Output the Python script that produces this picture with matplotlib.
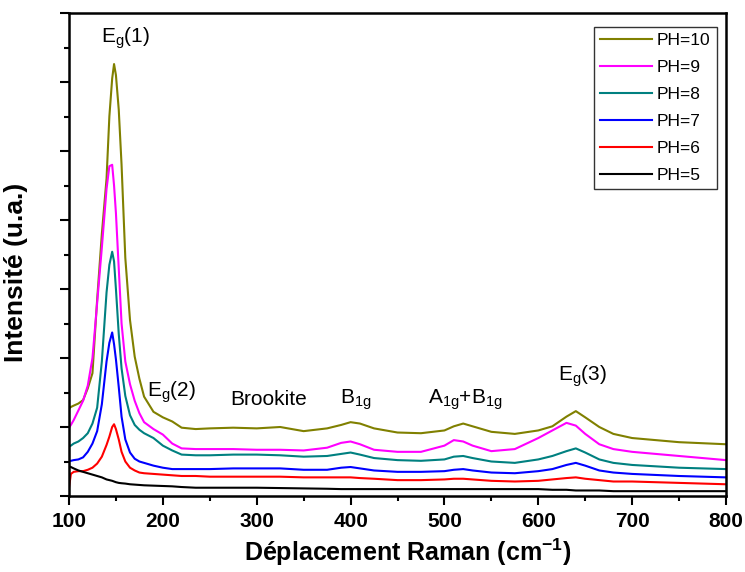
import numpy as np
import matplotlib
matplotlib.use("Agg")
import matplotlib.pyplot as plt

plt.rcParams['font.family'] = ['Liberation Sans', 'DejaVu Sans']
plt.rcParams['mathtext.default'] = 'regular'

# Raman shift (cm-1)
shift = [100, 102, 105, 110, 115, 120, 125, 130, 135, 140, 143, 146, 148, 150, 153, 156,
         160, 165, 170, 175, 180, 190, 200, 210, 220, 235, 250, 275, 300, 325, 350, 375,
         390, 400, 410, 425, 450, 475, 500, 510, 520, 530, 550, 575, 600, 615, 630, 640,
         650, 665, 680, 700, 750, 800]

ph10 = [1.27, 1.29, 1.31, 1.34, 1.39, 1.56, 1.78, 2.85, 3.8, 4.6, 5.5, 6.05, 6.26, 6.1, 5.6, 4.8,
        3.45, 2.55, 2.02, 1.7, 1.44, 1.22, 1.14, 1.08, 0.99, 0.97, 0.98, 0.99, 0.98, 1.00, 0.94, 0.98,
        1.03, 1.07, 1.05, 0.98, 0.92, 0.91, 0.95, 1.01, 1.05, 1.01, 0.93, 0.90, 0.95, 1.01, 1.15, 1.23,
        1.14, 1.0, 0.9, 0.84, 0.78, 0.75]
ph9 = [0.99, 1.03, 1.1, 1.24, 1.38, 1.6, 2.0, 2.8, 3.6, 4.45, 4.78, 4.8, 4.5, 4.1, 3.3, 2.5,
       1.95, 1.62, 1.38, 1.2, 1.07, 0.97, 0.89, 0.76, 0.69, 0.68, 0.68, 0.68, 0.67, 0.67, 0.66, 0.70,
       0.77, 0.79, 0.75, 0.67, 0.64, 0.64, 0.73, 0.81, 0.79, 0.73, 0.65, 0.68, 0.84, 0.95, 1.06, 1.02,
       0.9, 0.75, 0.68, 0.64, 0.58, 0.52]
ph8 = [0.72, 0.73, 0.76, 0.79, 0.84, 0.91, 1.05, 1.28, 1.95, 2.95, 3.35, 3.54, 3.4, 3.0, 2.35, 1.85,
       1.45, 1.17, 1.03, 0.96, 0.91, 0.84, 0.73, 0.66, 0.60, 0.59, 0.59, 0.60, 0.60, 0.59, 0.57, 0.58,
       0.61, 0.63, 0.60, 0.55, 0.52, 0.51, 0.53, 0.57, 0.58, 0.55, 0.50, 0.48, 0.53, 0.58, 0.65, 0.69,
       0.63, 0.53, 0.48, 0.45, 0.41, 0.39]
ph7 = [0.51, 0.51, 0.52, 0.53, 0.56, 0.64, 0.76, 0.94, 1.33, 1.95, 2.22, 2.37, 2.2, 1.98, 1.58, 1.15,
       0.82, 0.63, 0.54, 0.50, 0.48, 0.44, 0.41, 0.39, 0.39, 0.39, 0.39, 0.40, 0.40, 0.40, 0.38, 0.38,
       0.41, 0.42, 0.40, 0.37, 0.35, 0.35, 0.36, 0.38, 0.39, 0.37, 0.34, 0.33, 0.36, 0.39, 0.45, 0.48,
       0.44, 0.37, 0.34, 0.32, 0.29, 0.27]
ph6 = [0.12, 0.32, 0.35, 0.36, 0.36, 0.38, 0.41, 0.47, 0.57, 0.74, 0.86, 1.0, 1.04, 0.97, 0.82, 0.64,
       0.50, 0.41, 0.37, 0.34, 0.33, 0.32, 0.31, 0.30, 0.29, 0.29, 0.28, 0.28, 0.28, 0.28, 0.27, 0.27,
       0.27, 0.27, 0.26, 0.25, 0.23, 0.23, 0.24, 0.25, 0.25, 0.24, 0.22, 0.21, 0.22, 0.24, 0.26, 0.27,
       0.25, 0.23, 0.21, 0.21, 0.19, 0.17]
ph5 = [0.43, 0.42, 0.40, 0.37, 0.35, 0.33, 0.31, 0.29, 0.27, 0.24, 0.23, 0.22, 0.21, 0.20, 0.19, 0.185,
       0.18, 0.17, 0.165, 0.16, 0.155, 0.15, 0.145, 0.14, 0.13, 0.12, 0.12, 0.12, 0.12, 0.115, 0.11, 0.105,
       0.10, 0.10, 0.10, 0.10, 0.10, 0.10, 0.10, 0.10, 0.10, 0.10, 0.10, 0.10, 0.10, 0.09, 0.09, 0.08,
       0.08, 0.08, 0.07, 0.07, 0.07, 0.07]

labels = ['PH=10', 'PH=9', 'PH=8', 'PH=7', 'PH=6', 'PH=5']
colors = ['#808000', '#FF00FF', '#008080', '#0000FF', '#FF0000', '#000000']
series = [ph10, ph9, ph8, ph7, ph6, ph5]

fig = plt.figure(figsize=(7.45, 5.72), dpi=100)
ax = fig.add_axes([69/745, 1-496/572, 657/745, 483/572])

for ys, c, lab in zip(series, colors, labels):
    ax.plot(shift, ys, color=c, lw=1.5, label=lab)

ax.set_xlim(100, 800)
ax.set_ylim(0, 7)
ax.set_xticks(np.arange(100, 801, 100))
ax.set_xticks(np.arange(150, 800, 100), minor=True)
ax.set_yticks(np.arange(0, 7.1, 1))
ax.set_yticks(np.arange(0.5, 7, 1), minor=True)
ax.set_yticklabels([])
ax.tick_params(which='major', direction='out', length=6.5, width=1.5, top=False, right=False)
ax.tick_params(which='minor', direction='out', length=3.5, width=1.5, top=False, right=False)
ax.tick_params(axis='x', labelsize=15, pad=5)
for lb in ax.get_xticklabels():
    lb.set_fontweight('bold')
for sp in ax.spines.values():
    sp.set_linewidth(1.8)

ax.set_xlabel('Déplacement Raman (cm$^{-1}$)', fontsize=18, fontweight='bold')
ax.xaxis.set_label_coords(0.516, -0.085)
ax.set_ylabel('Intensité (u.a.)', fontsize=19, fontweight='bold')
ax.yaxis.set_label_coords(-0.062, 0.464)

# peak annotations
fs = 15
ax.text(159.7, 6.64, 'E$_g$(1)', fontsize=fs, ha='center', va='center')
ax.text(183, 1.5, 'E$_g$(2)', fontsize=fs, ha='left', va='center')
ax.text(313, 1.4, 'Brookite', fontsize=fs, ha='center', va='center')
ax.text(405.8, 1.39, 'B$_{1g}$', fontsize=fs, ha='center', va='center')
ax.text(522, 1.39, 'A$_{1g}$+B$_{1g}$', fontsize=fs, ha='center', va='center')
ax.text(646.6, 1.74, 'E$_g$(3)', fontsize=fs, ha='center', va='center')

leg = ax.legend(loc='upper right', bbox_to_anchor=(0.986, 0.971), fontsize=12.5,
                frameon=True, fancybox=False, edgecolor='black', handlelength=3.0,
                handletextpad=0.3, labelspacing=0.68, borderpad=0.35, borderaxespad=0)
leg.get_frame().set_linewidth(1.0)

fig.savefig('out.png', dpi=100)
